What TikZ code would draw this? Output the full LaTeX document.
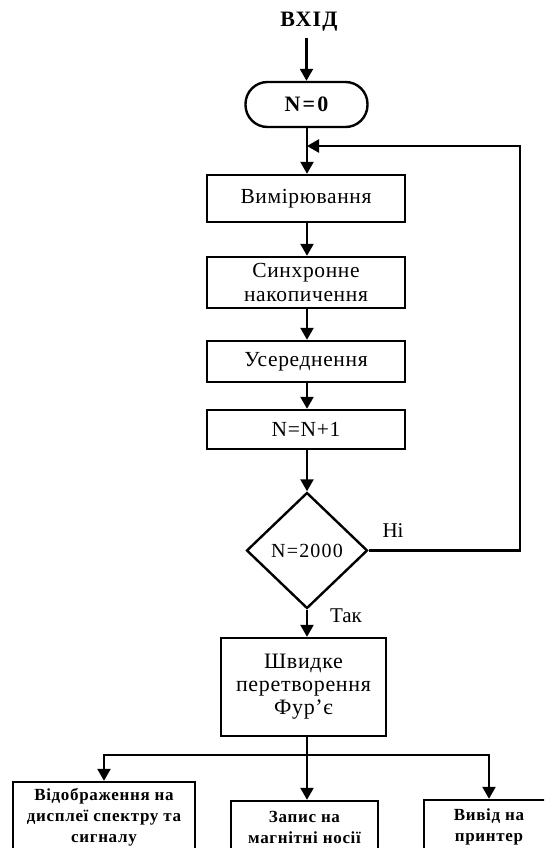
\documentclass[tikz,border=0pt]{standalone}
\usepackage{fontspec}
\setmainfont{Liberation Serif}
\usetikzlibrary{shapes.geometric,arrows.meta}
\begin{document}
\begin{tikzpicture}[x=1pt,y=-1pt,
  line width=2.4pt,
  >={Triangle[width=13pt,length=12pt]},
  procbox/.style={draw, rectangle, align=center, inner sep=2pt, font=\fontsize{21.5}{24}\selectfont\addfontfeature{LetterSpace=3}},
  outbox/.style={draw, rectangle, align=center, inner sep=2pt, font=\bfseries\fontsize{17}{21}\selectfont\addfontfeature{LetterSpace=4}},
  txt/.style={inner sep=0pt}]
\clip (0,0) rectangle (544,848);
\node[txt, font=\bfseries\fontsize{22}{24}\selectfont\addfontfeature{LetterSpace=5}] (vhid) at (309,22) {ВХІД};
\node[draw, rectangle, rounded corners=22pt, minimum width=122pt, minimum height=45pt, inner sep=0pt, font=\bfseries\fontsize{22}{24}\selectfont\addfontfeature{LetterSpace=10}] (n0) at (306.5,104.5) {N=0};
\node[procbox, minimum width=198pt, minimum height=47pt] (meas) at (306,198.5) {Вимірювання};
\node[procbox, minimum width=198pt, minimum height=51pt] (sync) at (306,282.5) {Синхронне\\накопичення};
\node[procbox, minimum width=198pt, minimum height=41pt] (avg) at (306,361.5) {Усереднення};
\node[procbox, minimum width=198pt, minimum height=39pt] (inc) at (306,429.5) {N=N+1};
\node[draw, diamond, minimum width=121pt, minimum height=116pt, inner sep=0pt, font=\fontsize{20}{22}\selectfont\addfontfeature{LetterSpace=6}] (dec) at (307,550.5) {N=2000};
\node[procbox, minimum width=165pt, minimum height=98pt, font=\fontsize{22}{23}\selectfont\addfontfeature{LetterSpace=3}] (fft) at (303.5,687) {Швидке\\перетворення\\Фур'є};
\node[outbox, minimum width=182pt, minimum height=70pt] (disp) at (104,817) {Відображення на\\дисплеї спектру та\\сигналу};
\node[outbox, minimum width=147pt, minimum height=52pt] (rec) at (304.5,827) {Запис на\\магнітні носії};
\node[outbox, minimum width=130pt, minimum height=54pt] (prn) at (489,827) {Вивід на\\принтер};
\node[txt, font=\fontsize{21}{22}\selectfont] (ni) at (393,531) {Ні};
\node[txt, font=\fontsize{21}{22}\selectfont] (tak) at (346,616) {Так};
\coordinate (loopR) at (520,146);
\coordinate (loopL) at (dec.north |- loopR);
\coordinate (split) at (307,755);

\draw[->] (vhid.south -| n0.north) ++(0,5) -- (n0.north);
\draw[->] (n0.south -| dec.north) -- (meas.north -| dec.north);
\draw[->] (meas.south -| dec.north) -- (sync.north -| dec.north);
\draw[->] (sync.south -| dec.north) -- (avg.north -| dec.north);
\draw[->] (avg.south -| dec.north) -- (inc.north -| dec.north);
\draw[->] (inc.south -| dec.north) -- (dec.north);
\draw[->] (dec.south) -- (fft.north -| dec.south);
\draw[->] (dec.east) -| (loopR) -- (loopL);
\draw (fft.south -| split) -- (split);
\draw[->] (split) -- (rec.north -| split);
\draw[->] (split) -| (disp.north);
\draw[->] (split) -| (prn.north);
\end{tikzpicture}
\end{document}
